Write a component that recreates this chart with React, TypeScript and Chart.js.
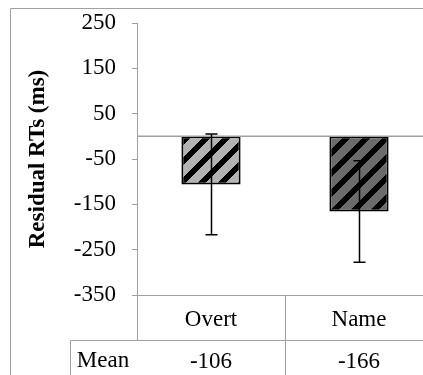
import React, { useEffect, useRef } from "react";
import { Chart, registerables } from "chart.js";

Chart.register(...registerables);

// ---- data ----
const categories = ["Overt", "Name"];
const means = [-106, -166];
const errors = [111, 112];
const tableRowLabel = "Mean";
const tableValues = ["-106", "-166"];
const yMin = -350;
const yMax = 250;
const yStep = 100;
const yTitle = "Residual RTs (ms)";
const barColors = ["#b3b3b3", "#6b6b6b"];

// ---- style ----
const FONT = "'Liberation Serif', 'Times New Roman', serif";
const FS = 23;
const GRAY = "#a0a0a0";

function hexToRgb(hex: string): [number, number, number] {
  const h = hex.replace("#", "");
  return [parseInt(h.slice(0, 2), 16), parseInt(h.slice(2, 4), 16), parseInt(h.slice(4, 6), 16)];
}

function makePattern(bg: string): CanvasPattern | string {
  const P = 20;
  const B = 8;
  const c = document.createElement("canvas");
  c.width = P;
  c.height = P;
  const g = c.getContext("2d");
  if (!g) return bg;
  const img = g.createImageData(P, P);
  const [r, gg, b] = hexToRgb(bg);
  for (let y = 0; y < P; y++) {
    for (let x = 0; x < P; x++) {
      const k = (y * P + x) * 4;
      const black = (x + y) % P < B;
      img.data[k] = black ? 0 : r;
      img.data[k + 1] = black ? 0 : gg;
      img.data[k + 2] = black ? 0 : b;
      img.data[k + 3] = 255;
    }
  }
  g.putImageData(img, 0, 0);
  return g.createPattern(c, "repeat") || bg;
}

const decor = {
  id: "decor",
  beforeDraw(chart: any) {
    const ctx = chart.ctx;
    ctx.save();
    ctx.strokeStyle = GRAY;
    ctx.lineWidth = 1;
    ctx.beginPath();
    ctx.moveTo(10.5, chart.height);
    ctx.lineTo(10.5, 8.5);
    ctx.lineTo(chart.width, 8.5);
    ctx.stroke();
    ctx.restore();
  },
  afterDatasetsDraw(chart: any) {
    const ctx = chart.ctx;
    const y = chart.scales.y;
    const area = chart.chartArea;
    ctx.save();
    // zero line
    const y0 = y.getPixelForValue(0);
    ctx.strokeStyle = GRAY;
    ctx.lineWidth = 1.5;
    ctx.beginPath();
    ctx.moveTo(area.left, y0);
    ctx.lineTo(area.right, y0);
    ctx.stroke();
    // error bars
    const meta = chart.getDatasetMeta(0);
    ctx.strokeStyle = "#000";
    ctx.lineWidth = 1.5;
    meta.data.forEach((bar: any, i: number) => {
      const x = Math.round(bar.x) + 0.5;
      const yt = y.getPixelForValue(means[i] + errors[i]);
      const yb = y.getPixelForValue(means[i] - errors[i]);
      ctx.beginPath();
      ctx.moveTo(x, yt);
      ctx.lineTo(x, yb);
      ctx.moveTo(x - 6, yt);
      ctx.lineTo(x + 6, yt);
      ctx.moveTo(x - 6, yb);
      ctx.lineTo(x + 6, yb);
      ctx.stroke();
    });
    ctx.restore();
  },
  afterDraw(chart: any) {
    const ctx = chart.ctx;
    const area = chart.chartArea;
    const xs = chart.scales.x;
    const H = chart.height;
    const W = chart.width;
    const rowSplit = 340.5;
    const labelLeft = 70.5;
    const left = Math.round(area.left) + 0.5;
    const bottom = Math.round(area.bottom) + 0.5;
    ctx.save();
    ctx.strokeStyle = GRAY;
    ctx.lineWidth = 1;
    ctx.beginPath();
    ctx.moveTo(left, bottom);
    ctx.lineTo(W, bottom);
    ctx.moveTo(left, bottom);
    ctx.lineTo(left, rowSplit);
    ctx.moveTo(labelLeft, rowSplit);
    ctx.lineTo(W, rowSplit);
    ctx.moveTo(labelLeft, rowSplit);
    ctx.lineTo(labelLeft, H);
    for (let i = 0; i < categories.length - 1; i++) {
      const bx = Math.round((xs.getPixelForValue(i) + xs.getPixelForValue(i + 1)) / 2) + 0.5;
      ctx.moveTo(bx, bottom);
      ctx.lineTo(bx, H);
    }
    ctx.stroke();

    ctx.fillStyle = "#000";
    ctx.font = `${FS}px ${FONT}`;
    ctx.textAlign = "center";
    ctx.textBaseline = "alphabetic";
    categories.forEach((c, i) => {
      const cx = xs.getPixelForValue(i);
      ctx.fillText(c, cx, 326);
      ctx.fillText(tableValues[i], cx, 368);
    });
    ctx.fillText(tableRowLabel, (labelLeft + left) / 2 - 1, 367);
    ctx.restore();
  },
};

export default function App() {
  const ref = useRef<HTMLCanvasElement | null>(null);
  useEffect(() => {
    if (!ref.current) return;
    const chart = new Chart(ref.current, {
      type: "bar",
      data: {
        labels: categories,
        datasets: [
          {
            data: means,
            backgroundColor: barColors.map((c) => makePattern(c)),
            borderColor: "#000",
            borderWidth: 2,
            borderSkipped: false,
            barPercentage: 0.4,
            categoryPercentage: 1,
          },
        ],
      },
      options: {
        responsive: false,
        animation: false,
        devicePixelRatio: 1,
        layout: { padding: { left: 0, right: 0, top: 23, bottom: 80 } },
        plugins: {
          legend: { display: false },
          tooltip: { enabled: false },
        },
        scales: {
          x: { display: false },
          y: {
            min: yMin,
            max: yMax,
            ticks: {
              stepSize: yStep,
              color: "#000",
              padding: 16,
              font: { family: FONT, size: FS },
            },
            grid: {
              drawOnChartArea: false,
              tickLength: 5,
              tickColor: GRAY,
              color: GRAY,
            },
            border: { display: true, color: GRAY, width: 1 },
            title: {
              display: true,
              text: yTitle,
              color: "#000",
              font: { family: FONT, size: FS, weight: "bold" },
              padding: { top: 24, bottom: 0 },
            },
            afterFit(scale: any) {
              scale.width = 137;
              scale.paddingTop = 0;
              scale.paddingBottom = 0;
            },
          },
        },
      },
      plugins: [decor],
    } as any);
    return () => chart.destroy();
  }, []);
  return (
    <div
      style={{
        position: "fixed",
        left: 0,
        top: 0,
        width: 423,
        height: 375,
        overflow: "hidden",
        background: "#fff",
      }}
    >
      <canvas ref={ref} width={433} height={375} style={{ width: 433, height: 375, display: "block" }} />
    </div>
  );
}
